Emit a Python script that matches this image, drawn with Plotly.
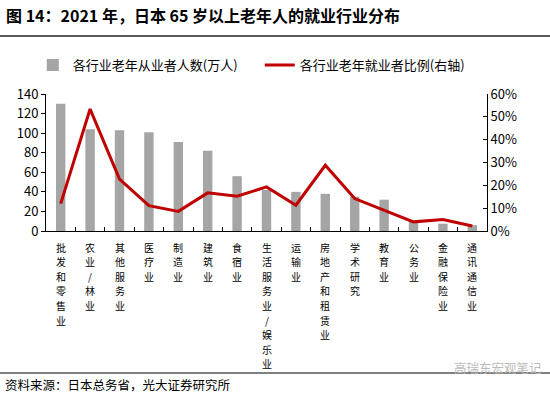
import plotly.graph_objects as go

categories = ["批发和零售业", "农业/林业", "其他服务业", "医疗业", "制造业", "建筑业", "食宿业",
              "生活服务业/娱乐业", "运输业", "房地产和租赁业", "学术研究", "教育业", "公务业",
              "金融保险业", "通讯通信业"]
workers = [130, 104, 103, 101, 91, 82, 56, 42, 40, 38, 35, 32, 10, 7.5, 6]
share = [0.12, 0.534, 0.227, 0.111, 0.086, 0.167, 0.152, 0.193, 0.113, 0.288, 0.142, 0.091, 0.040, 0.050, 0.022]
left_ticks = [0, 20, 40, 60, 80, 100, 120, 140]
right_ticks = [0, 0.1, 0.2, 0.3, 0.4, 0.5, 0.6]

FONT = "Noto Sans CJK SC"
W, H = 550, 393
M_L, M_R, M_T, M_B = 46, 63, 94, 162
PLOT_H = H - M_T - M_B


def py(pixel_y):
    """Convert a pixel row (from top) to paper coordinates."""
    return (H - M_B - pixel_y) / PLOT_H


def px(pixel_x):
    return (pixel_x - M_L) / (W - M_L - M_R)


fig = go.Figure()
fig.add_trace(go.Bar(x=categories, y=workers, name="各行业老年从业者人数(万人)",
                     marker=dict(color="#A5A5A5", line=dict(width=0))))
fig.add_trace(go.Scatter(x=categories, y=share, name="各行业老年就业者比例(右轴)", yaxis="y2",
                         mode="lines", line=dict(color="#C00000", width=3)))

fig.update_layout(
    width=W, height=H,
    margin=dict(l=M_L, r=M_R, t=M_T, b=M_B, autoexpand=False),
    paper_bgcolor="white", plot_bgcolor="white",
    font=dict(family=FONT, color="#000000", size=13),
    bargap=0.68,
    showlegend=True,
    legend=dict(orientation="h", x=-0.03, y=py(65), xanchor="left", yanchor="middle",
                font=dict(size=13, family=FONT), bgcolor="rgba(0,0,0,0)", itemwidth=30,
                entrywidth=182, entrywidthmode="pixels", tracegroupgap=0),
    xaxis=dict(type="category", categoryorder="array", categoryarray=categories,
               showticklabels=False,
               showline=True, linecolor="#000000", linewidth=1,
               tickson="boundaries", ticks="inside", ticklen=4, tickcolor="#000000",
               showgrid=False, range=[-0.5, 14.5], fixedrange=True),
    yaxis=dict(range=[0, 140], tickvals=left_ticks, showline=True, linecolor="#000000", linewidth=1,
               ticks="outside", ticklen=4, tickcolor="#000000", showgrid=False, zeroline=False,
               tickfont=dict(size=13, family=FONT)),
    yaxis2=dict(range=[0, 0.6], tickvals=right_ticks, tickformat=".0%", overlaying="y", side="right",
                showline=True, linecolor="#000000", linewidth=1, ticks="inside", ticklen=4,
                tickcolor="#000000", showgrid=False, zeroline=False,
                tickfont=dict(size=13, family=FONT)),
)

# vertical (stacked) category labels, one character per row
LABEL_TOP = 247
LABEL_STEP = 14.6
for cat in categories:
    for j, ch in enumerate(cat):
        fig.add_annotation(text=ch, x=cat, xref="x", y=py(LABEL_TOP + j * LABEL_STEP), yref="paper",
                           xanchor="center", yanchor="middle", showarrow=False,
                           font=dict(size=10, family=FONT, color="#000000"))

# title
fig.add_annotation(text="<b>图 14：2021 年，日本 65 岁以上老年人的就业行业分布</b>",
                   xref="paper", yref="paper", x=px(4), y=py(15), xanchor="left", yanchor="middle",
                   showarrow=False, font=dict(size=16, family=FONT, color="#000000"))
# footer
fig.add_annotation(text="资料来源：日本总务省，光大证券研究所",
                   xref="paper", yref="paper", x=px(3), y=py(384), xanchor="left", yanchor="middle",
                   showarrow=False, font=dict(size=12.5, family=FONT, color="#000000"))
# watermark
fig.add_annotation(text="高瑞东宏观笔记",
                   xref="paper", yref="paper", x=px(544), y=py(367), xanchor="right", yanchor="middle",
                   showarrow=False, font=dict(size=12.5, family=FONT, color="#BBBBBB"))

fig.add_shape(type="line", xref="paper", yref="paper", x0=px(0), x1=px(W), y0=py(36), y1=py(36),
              line=dict(color="#595959", width=2))
fig.add_shape(type="line", xref="paper", yref="paper", x0=px(0), x1=px(W), y0=py(373), y1=py(373),
              line=dict(color="#000000", width=1))

fig.write_html("out.html", post_script="document.body.style.margin='0';",
               config={"displayModeBar": False})
